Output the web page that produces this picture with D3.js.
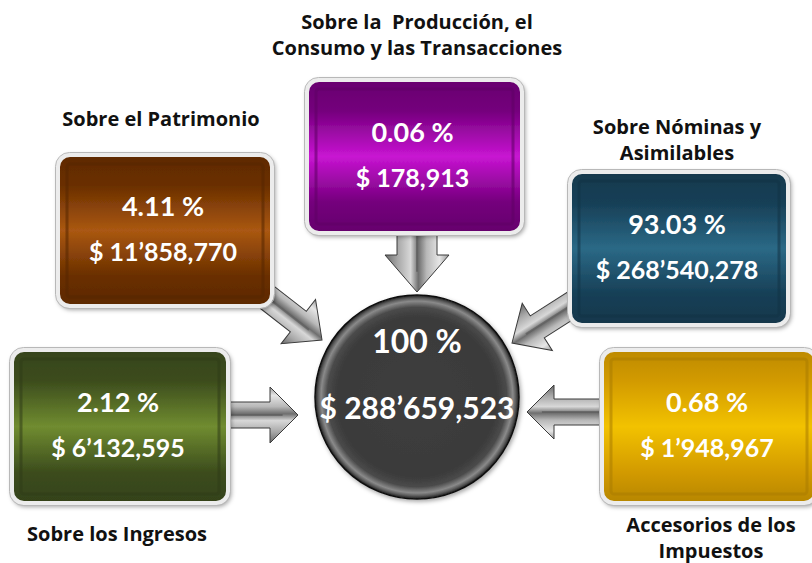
<!DOCTYPE html>
<html>
<head>
<meta charset="utf-8">
<script src="https://cdn.jsdelivr.net/npm/d3@7"></script>
<style>
  html, body { margin: 0; padding: 0; background: #fff; }
  svg { display: block; }
  text { font-family: Lato, "Open Sans", sans-serif; font-weight: bold; }
  .labels text { font-family: "Open Sans", Lato, sans-serif; font-weight: bold; }
</style>
</head>
<body>
<svg id="chart" width="812" height="563"></svg>
<script>
// categories (label lines), shares and amounts
const categories = [
  ["Sobre el Patrimonio"],
  ["Sobre la  Producción, el", "Consumo y las Transacciones"],
  ["Sobre Nóminas y", "Asimilables"],
  ["Sobre los Ingresos"],
  ["Accesorios de los", "Impuestos"]
];
const percents = ["4.11 %", "0.06 %", "93.03 %", "2.12 %", "0.68 %"];
const amounts = ["$ 11’858,770", "$ 178,913", "$ 268’540,278", "$ 6’132,595", "$ 1’948,967"];
const totalPercent = "100 %";
const totalAmount = "$ 288’659,523";

// box colours: [edge, middle]
const boxColors = [
  ["#6a2f00", "#aa5812"],
  ["#74007c", "#c814d2"],
  ["#173f56", "#2b6986"],
  ["#3c4c1d", "#708c30"],
  ["#d29a00", "#f2c200"]
];

// layout of each box, its label and arrow into the centre
const layout = [
  { x: 58, y: 155, w: 214, h: 151, label: { x: 161, y: 126 }, arrow: { from: [245, 280], to: [322, 340], sw: 13, hw: 28, hl: 30 } },
  { x: 307, y: 80, w: 215, h: 153, label: { x: 417, y: 29 }, arrow: { from: [417, 226], to: [417, 292], sw: 20, hw: 32, hl: 37 } },
  { x: 570, y: 172, w: 218, h: 153, label: { x: 677, y: 134 }, arrow: { from: [595, 290], to: [512, 343], sw: 13, hw: 28, hl: 30 } },
  { x: 12, y: 350, w: 216, h: 153, label: { x: 117, y: 541 }, arrow: { from: [222, 415], to: [298, 415], sw: 13, hw: 28, hl: 28 } },
  { x: 602, y: 350, w: 214, h: 153, label: { x: 711, y: 532 }, arrow: { from: [608, 412], to: [527, 412], sw: 13, hw: 27, hl: 27 } }
];
const centre = { cx: 417, cy: 397, r: 102 };

const svg = d3.select("#chart");
const defs = svg.append("defs");

const shadow = defs.append("filter").attr("id", "shadow")
  .attr("x", "-10%").attr("y", "-10%").attr("width", "130%").attr("height", "130%");
shadow.append("feDropShadow").attr("dx", 1.5).attr("dy", 2).attr("stdDeviation", 2)
  .attr("flood-color", "#000").attr("flood-opacity", 0.35);

boxColors.forEach((c, i) => {
  const g = defs.append("linearGradient").attr("id", "box" + i)
    .attr("x1", 0).attr("y1", 0).attr("x2", 0).attr("y2", 1);
  g.append("stop").attr("offset", "0%").attr("stop-color", d3.color(c[0]).darker(0.3));
  g.append("stop").attr("offset", "20%").attr("stop-color", c[0]);
  g.append("stop").attr("offset", "50%").attr("stop-color", c[1]);
  g.append("stop").attr("offset", "80%").attr("stop-color", c[0]);
  g.append("stop").attr("offset", "100%").attr("stop-color", d3.color(c[0]).darker(0.4));
});

const ag = defs.append("linearGradient").attr("id", "arrowGrad")
  .attr("x1", 0).attr("y1", 0).attr("x2", 0).attr("y2", 1);
[["0%", "#9a9a9a"], ["15%", "#e6e6e6"], ["35%", "#b8b8b8"], ["48%", "#6e6e6e"],
 ["60%", "#d8d8d8"], ["80%", "#a8a8a8"], ["100%", "#6a6a6a"]]
  .forEach(s => ag.append("stop").attr("offset", s[0]).attr("stop-color", s[1]));

const cg = defs.append("radialGradient").attr("id", "circleGrad")
  .attr("cx", "50%").attr("cy", "50%").attr("r", "50%");
[["0%", "#3e3e3e"], ["78%", "#3a3a3a"], ["88%", "#4a4a4a"], ["94%", "#8a8a8a"],
 ["97%", "#5a5a5a"], ["100%", "#1a1a1a"]]
  .forEach(s => cg.append("stop").attr("offset", s[0]).attr("stop-color", s[1]));

// arrows first so the boxes cover the shaft ends
function arrowPath(L, sw, hw, hl) {
  return `M0,${-sw}L${L - hl},${-sw}L${L - hl},${-hw}L${L},0L${L - hl},${hw}L${L - hl},${sw}L0,${sw}Z`;
}
const arrows = svg.append("g").attr("class", "arrows")
  .selectAll("g")
  .data(layout)
  .join("g")
  .attr("transform", d => {
    const [x0, y0] = d.arrow.from, [x1, y1] = d.arrow.to;
    const ang = Math.atan2(y1 - y0, x1 - x0) * 180 / Math.PI;
    return `translate(${x0},${y0}) rotate(${ang})`;
  });
arrows.append("path")
  .attr("d", d => {
    const a = d.arrow;
    const L = Math.hypot(a.to[0] - a.from[0], a.to[1] - a.from[1]);
    return arrowPath(L, a.sw, a.hw, a.hl);
  })
  .attr("fill", "url(#arrowGrad)")
  .attr("stroke", "#3a3a3a")
  .attr("stroke-width", 1)
  .attr("stroke-linejoin", "miter");
arrows.append("path")
  .attr("d", d => {
    const a = d.arrow;
    const L = Math.hypot(a.to[0] - a.from[0], a.to[1] - a.from[1]);
    return `M0,0L${L - a.hl * 0.55},0`;
  })
  .attr("stroke", "#555")
  .attr("stroke-width", 2)
  .attr("opacity", 0.6);

// boxes
const boxes = svg.append("g").attr("class", "boxes")
  .selectAll("g")
  .data(layout)
  .join("g");

boxes.append("rect")
  .attr("x", d => d.x).attr("y", d => d.y)
  .attr("width", d => d.w).attr("height", d => d.h)
  .attr("rx", 12)
  .attr("fill", (d, i) => `url(#box${i})`)
  .attr("stroke", "#ececec")
  .attr("stroke-width", 4)
  .attr("filter", "url(#shadow)");
boxes.append("rect")
  .attr("x", d => d.x - 2.5).attr("y", d => d.y - 2.5)
  .attr("width", d => d.w + 5).attr("height", d => d.h + 5)
  .attr("rx", 14)
  .attr("fill", "none")
  .attr("stroke", "#b8b8b8")
  .attr("stroke-width", 1);
boxes.append("rect")
  .attr("x", d => d.x + 9).attr("y", d => d.y + 9)
  .attr("width", d => d.w - 18).attr("height", d => d.h - 18)
  .attr("rx", 3)
  .attr("fill", "none")
  .attr("stroke", (d, i) => d3.color(boxColors[i][0]).darker(0.6))
  .attr("stroke-opacity", 0.55)
  .attr("stroke-width", 3);

boxes.append("text")
  .attr("x", d => d.x + d.w / 2 - 2)
  .attr("y", d => d.y + d.h * 0.405)
  .attr("text-anchor", "middle")
  .attr("fill", "#fff")
  .attr("font-size", 27)
  .text((d, i) => percents[i]);
boxes.append("text")
  .attr("x", d => d.x + d.w / 2 - 2)
  .attr("y", d => d.y + d.h * 0.70)
  .attr("text-anchor", "middle")
  .attr("fill", "#fff")
  .attr("font-size", 25)
  .text((d, i) => amounts[i]);

// labels
svg.append("g").attr("class", "labels")
  .selectAll("text")
  .data(layout)
  .join("text")
  .attr("x", d => d.label.x)
  .attr("y", d => d.label.y)
  .attr("text-anchor", "middle")
  .attr("fill", "#111")
  .attr("font-size", 20)
  .style("white-space", "pre")
  .selectAll("tspan")
  .data((d, i) => categories[i].map(t => ({ t, x: d.label.x })))
  .join("tspan")
  .attr("x", d => d.x)
  .attr("dy", (d, j) => j === 0 ? 0 : 26)
  .text(d => d.t);

// centre circle
const c = svg.append("g").attr("class", "total");
c.append("circle")
  .attr("cx", centre.cx).attr("cy", centre.cy).attr("r", centre.r)
  .attr("fill", "url(#circleGrad)")
  .attr("stroke", "#111")
  .attr("stroke-width", 1.5)
  .attr("filter", "url(#shadow)");
c.append("text")
  .attr("x", centre.cx).attr("y", centre.cy - 44)
  .attr("text-anchor", "middle").attr("fill", "#fff")
  .attr("font-size", 32)
  .text(totalPercent);
c.append("text")
  .attr("x", centre.cx).attr("y", centre.cy + 22)
  .attr("text-anchor", "middle").attr("fill", "#fff")
  .attr("font-size", 30)
  .text(totalAmount);
</script>
</body>
</html>
